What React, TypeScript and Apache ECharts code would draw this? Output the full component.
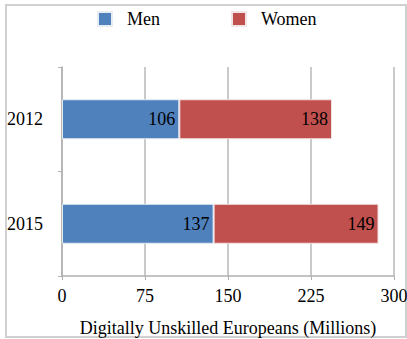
import React, { useEffect, useRef } from "react";
import * as echarts from "echarts";

const categories = ["2015", "2012"];
const menValues = [137, 106];
const womenValues = [149, 138];
const xTicks = { min: 0, max: 300, interval: 75 };
const axisTitle = "Digitally Unskilled Europeans (Millions)";

const FONT = "'Liberation Serif', 'Times New Roman', serif";

export default function App() {
  const ref = useRef<HTMLDivElement>(null);
  useEffect(() => {
    if (!ref.current) return;
    const chart = echarts.init(ref.current, undefined, { renderer: "svg" });
    chart.setOption({
      animation: false,
      backgroundColor: "#ffffff",
      textStyle: { fontFamily: FONT },
      graphic: [
        {
          type: "rect",
          shape: { x: 6, y: 5, width: 400, height: 332 },
          style: { fill: "none", stroke: "#d0d0d0", lineWidth: 2 },
          silent: true,
        },
      ],
      legend: {
        top: 10,
        left: 97,
        padding: 0,
        itemWidth: 14,
        itemHeight: 14,
        itemGap: 71,
        icon: "rect",
        textStyle: { fontFamily: FONT, fontSize: 18, color: "#000", padding: [0, 0, 0, 10] },
        data: ["Men", "Women"],
      },
      grid: {
        left: 62,
        right: 13,
        top: 67,
        bottom: 63,
        containLabel: false,
        outerBoundsMode: "none",
      },
      xAxis: {
        type: "value",
        min: xTicks.min,
        max: xTicks.max,
        interval: xTicks.interval,
        axisLine: { show: true, lineStyle: { color: "#b0b0b0", width: 1.5 } },
        axisTick: { show: true, length: 4, lineStyle: { color: "#b0b0b0" } },
        splitLine: { show: true, lineStyle: { color: "#b8b8b8", width: 1.5 } },
        axisLabel: { fontFamily: FONT, fontSize: 18, color: "#000", margin: 11 },
        name: axisTitle,
        nameLocation: "middle",
        nameGap: 43,
        nameTextStyle: { fontFamily: FONT, fontSize: 18, color: "#000" },
      },
      yAxis: {
        type: "category",
        data: categories,
        axisLine: { show: true, lineStyle: { color: "#b0b0b0", width: 1.5 } },
        axisTick: { show: true, length: 4, inside: false, lineStyle: { color: "#b0b0b0" } },
        axisLabel: { fontFamily: FONT, fontSize: 18, color: "#000", margin: 19 },
        splitLine: { show: false },
      },
      series: [
        {
          name: "Men",
          type: "bar",
          stack: "total",
          barWidth: 40,
          data: menValues,
          itemStyle: { color: "#4F81BD", borderColor: "#e6ecf4", borderWidth: 1 },
          label: {
            show: true,
            position: "insideRight",
            distance: 4,
            fontFamily: FONT,
            fontSize: 18,
            color: "#000",
          },
        },
        {
          name: "Women",
          type: "bar",
          stack: "total",
          barWidth: 40,
          data: womenValues,
          itemStyle: { color: "#C0504D", borderColor: "#f2e4e4", borderWidth: 1 },
          label: {
            show: true,
            position: "insideRight",
            distance: 4,
            fontFamily: FONT,
            fontSize: 18,
            color: "#000",
          },
        },
      ],
    });
    return () => chart.dispose();
  }, []);
  return (
    <div
      ref={ref}
      style={{ position: "fixed", left: 0, top: 0, width: 407, height: 339 }}
    />
  );
}
